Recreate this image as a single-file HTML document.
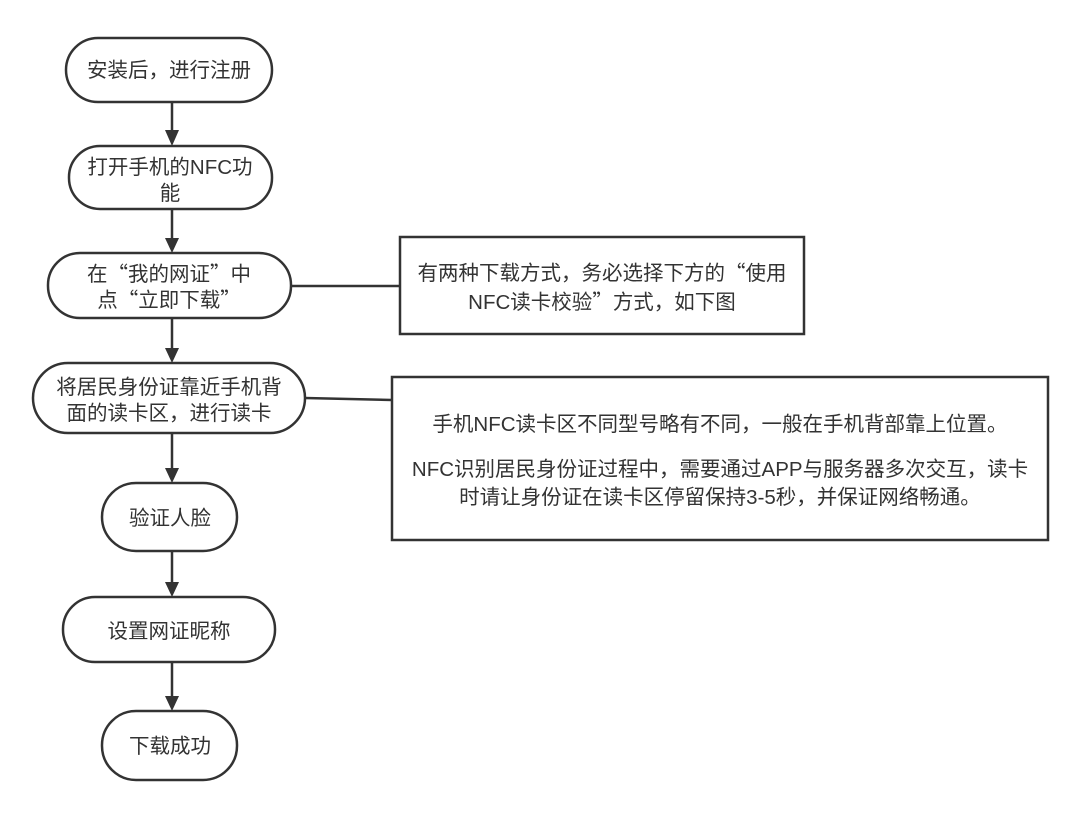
<!DOCTYPE html>
<html><head><meta charset="utf-8"><style>
body{margin:0;background:#fff}
svg text{font-family:"Liberation Sans","Noto Sans CJK SC",sans-serif;font-size:20.5px;fill:#333;text-anchor:middle}
.q{font-family:"Noto Sans CJK SC",sans-serif}
</style></head><body>
<svg width="1080" height="825" viewBox="0 0 1080 825" xmlns="http://www.w3.org/2000/svg">
<g fill="none" stroke="#333" stroke-width="2.5">
<rect x="66" y="38" width="206" height="64" rx="32"/>
<rect x="69" y="146" width="203" height="63" rx="31"/>
<rect x="48" y="253" width="243" height="65" rx="32"/>
<rect x="33" y="363" width="272" height="70" rx="35"/>
<rect x="102" y="483" width="135" height="68" rx="34"/>
<rect x="63" y="597" width="212" height="65" rx="32"/>
<rect x="102" y="711" width="135" height="69" rx="34"/>
<rect x="400" y="237" width="404" height="97"/>
<rect x="392" y="377" width="656" height="163"/>
<line x1="291" y1="286" x2="400" y2="286"/>
<line x1="305" y1="398" x2="392" y2="400"/>
<line x1="172" y1="102" x2="172" y2="132"/>
<line x1="172" y1="209" x2="172" y2="240"/>
<line x1="172" y1="318" x2="172" y2="350"/>
<line x1="172" y1="433" x2="172" y2="470"/>
<line x1="172" y1="551" x2="172" y2="584"/>
<line x1="172" y1="662" x2="172" y2="698"/>
</g>
<g fill="#333">
<path d="M165,130 L179,130 L172,146 Z"/>
<path d="M165,238 L179,238 L172,253 Z"/>
<path d="M165,348 L179,348 L172,363 Z"/>
<path d="M165,468 L179,468 L172,483 Z"/>
<path d="M165,582 L179,582 L172,597 Z"/>
<path d="M165,696 L179,696 L172,711 Z"/>
</g>
<text x="169" y="77">安装后，进行注册</text>
<text x="170" y="174">打开手机的NFC功</text>
<text x="170" y="200">能</text>
<text x="169" y="281">在<tspan class="q">“</tspan>我的网证<tspan class="q">”</tspan>中</text>
<text x="169" y="307">点<tspan class="q">“</tspan>立即下载<tspan class="q">”</tspan></text>
<text x="169" y="394">将居民身份证靠近手机背</text>
<text x="169" y="420">面的读卡区，进行读卡</text>
<text x="170" y="525">验证人脸</text>
<text x="169" y="638">设置网证昵称</text>
<text x="170" y="753">下载成功</text>
<text x="602" y="280">有两种下载方式，务必选择下方的<tspan class="q">“</tspan>使用</text>
<text x="602" y="309">NFC读卡校验<tspan class="q">”</tspan>方式，如下图</text>
<text x="720" y="431">手机NFC读卡区不同型号略有不同，一般在手机背部靠上位置。</text>
<text x="720" y="476">NFC识别居民身份证过程中，需要通过APP与服务器多次交互，读卡</text>
<text x="720" y="504">时请让身份证在读卡区停留保持3-5秒，并保证网络畅通。</text>
</svg>
</body></html>
